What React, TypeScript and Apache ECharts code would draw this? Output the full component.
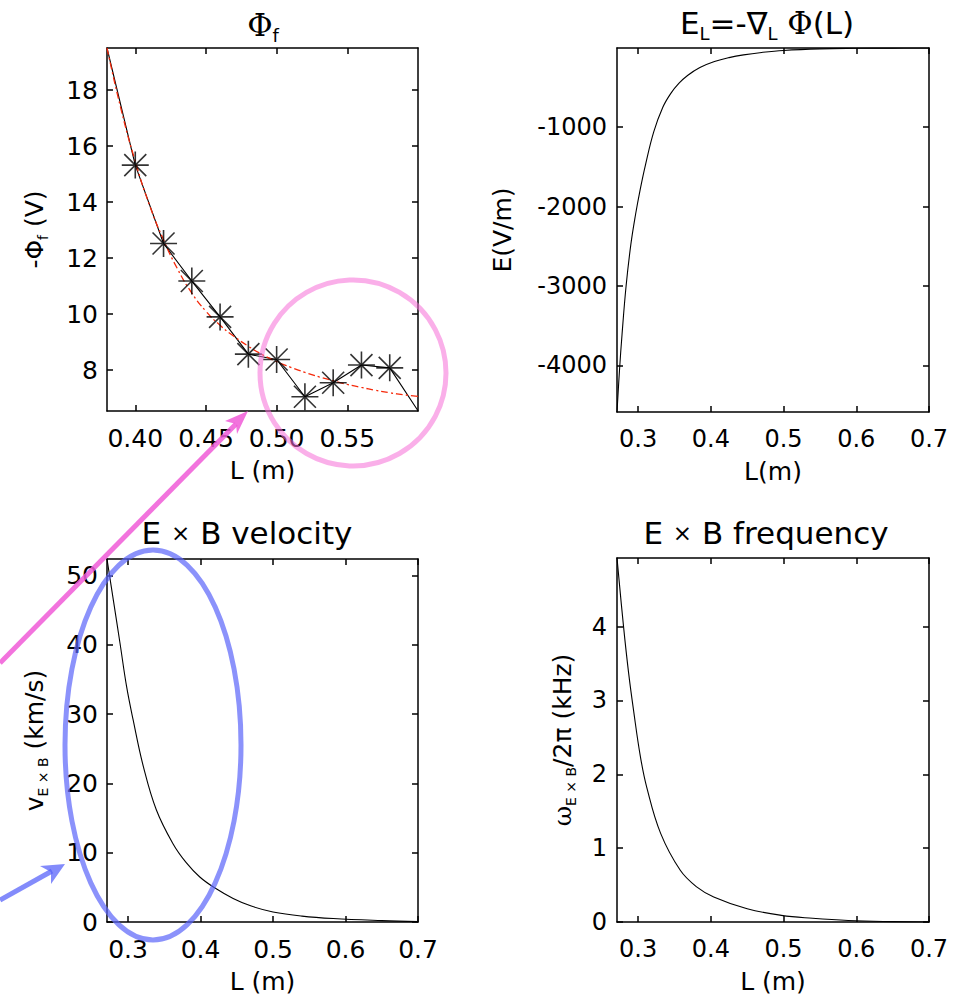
import React, { useEffect, useRef } from 'react';
import * as echarts from 'echarts';

const FONT = '"DejaVu Sans", sans-serif';
const SERIF = '"DejaVu Serif", serif';

// ---- Panel 1: floating potential -Phi_f vs L ----
const PHI_STAR_L = [0.40, 0.42, 0.44, 0.46, 0.48, 0.50, 0.52, 0.54, 0.56, 0.58];
const PHI_STAR_V = [15.32, 12.52, 11.18, 9.9, 8.57, 8.38, 7.05, 7.55, 8.18, 8.08];
const PHI_LINE_L = [0.38, 0.40, 0.42, 0.44, 0.46, 0.48, 0.50, 0.52, 0.54, 0.56, 0.58, 0.60];
const PHI_LINE_V = [19.5, 15.32, 12.52, 11.18, 9.9, 8.57, 8.38, 7.05, 7.55, 8.18, 8.08, 6.55];
const FIT_L = [0.38, 0.39, 0.40, 0.41, 0.42, 0.43, 0.44, 0.45, 0.46, 0.47, 0.48, 0.49, 0.50, 0.51, 0.52, 0.53, 0.54, 0.55, 0.56, 0.57, 0.58, 0.59, 0.60];
const FIT_V = [19.5, 17.3, 15.45, 13.9, 12.65, 11.6, 10.75, 10.1, 9.6, 9.2, 8.85, 8.55, 8.3, 8.1, 7.92, 7.76, 7.62, 7.49, 7.38, 7.28, 7.19, 7.12, 7.06];

// ---- Panel 2: electric field ----
const E_L = [0.271, 0.2745, 0.278, 0.2835, 0.290, 0.2965, 0.303, 0.310, 0.3215, 0.334, 0.345, 0.356, 0.368, 0.385, 0.405, 0.425, 0.445, 0.470, 0.500, 0.550, 0.600, 0.650, 0.700];
const E_V = [-4586, -4050, -3600, -3000, -2480, -2100, -1780, -1480, -1060, -750, -575, -450, -350, -250, -175, -125, -90, -60, -35, -15, -8, -5, -4];

// ---- Panel 3: ExB velocity ----
const V_L = [0.271, 0.2797, 0.289, 0.298, 0.307, 0.321, 0.339, 0.362, 0.380, 0.399, 0.420, 0.445, 0.470, 0.500, 0.540, 0.583, 0.650, 0.700];
const V_V = [52.4, 46.5, 40.2, 34.0, 29.2, 22.5, 16.2, 11.3, 8.6, 6.5, 4.9, 3.4, 2.3, 1.45, 0.85, 0.5, 0.2, 0.05];

// ---- Panel 4: ExB frequency ----
const F_L = [0.271, 0.280, 0.287, 0.294, 0.303, 0.312, 0.331, 0.358, 0.380, 0.404, 0.450, 0.497, 0.540, 0.589, 0.650, 0.700];
const F_V = [4.93, 4.0, 3.37, 2.85, 2.25, 1.82, 1.20, 0.70, 0.48, 0.34, 0.18, 0.09, 0.05, 0.02, 0.005, 0.0];

// ---- tick values ----
const TL_XTICKS = [0.40, 0.45, 0.50, 0.55];
const TL_YTICKS = [8, 10, 12, 14, 16, 18];
const R_XTICKS = [0.3, 0.4, 0.5, 0.6, 0.7];
const TR_YTICKS = [-4000, -3000, -2000, -1000];
const BL_YTICKS = [0, 10, 20, 30, 40, 50];
const BR_YTICKS = [0, 1, 2, 3, 4];

const pairs = (xs: number[], ys: number[]) => xs.map((x, i) => [x, ys[i]]);

const STAR = 'path://M0,13.5L27,13.5M13.5,0L13.5,27M2.5,2.5L24.5,24.5M24.5,2.5L2.5,24.5';

const line = { color: '#000', width: 1.5 };

function xAxes(grid: number, min: number, max: number, ticks: number[], fmt: (v: number) => string, fs: number, name: string, gap: number) {
  return [
    {
      type: 'value', gridIndex: grid, position: 'bottom', min, max,
      axisLine: { show: true, onZero: false, lineStyle: line },
      axisTick: { show: true, inside: true, length: 6, customValues: ticks, lineStyle: line },
      axisLabel: { show: true, customValues: ticks, formatter: fmt, color: '#000', fontFamily: FONT, fontSize: fs, margin: 15 },
      splitLine: { show: false },
      name, nameLocation: 'middle', nameGap: gap,
      nameTextStyle: { color: '#000', fontFamily: FONT, fontSize: 25 },
    },
    {
      type: 'value', gridIndex: grid, position: 'top', min, max,
      axisLine: { show: true, onZero: false, lineStyle: line },
      axisTick: { show: true, inside: true, length: 6, customValues: ticks, lineStyle: line },
      axisLabel: { show: false },
      splitLine: { show: false },
    },
  ];
}

function yAxes(grid: number, min: number, max: number, ticks: number[], fs: number, margin: number, name: string, gap: number, rich: any) {
  return [
    {
      type: 'value', gridIndex: grid, position: 'left', min, max,
      axisLine: { show: true, onZero: false, lineStyle: line },
      axisTick: { show: true, inside: true, length: 6, customValues: ticks, lineStyle: line },
      axisLabel: { show: true, customValues: ticks, formatter: (v: number) => String(Math.round(v)), color: '#000', fontFamily: FONT, fontSize: fs, margin },
      splitLine: { show: false },
      name, nameLocation: 'middle', nameGap: gap, nameRotate: 90,
      nameTextStyle: { color: '#000', fontFamily: FONT, fontSize: 25, rich },
    },
    {
      type: 'value', gridIndex: grid, position: 'right', min, max,
      axisLine: { show: true, onZero: false, lineStyle: line },
      axisTick: { show: true, inside: true, length: 6, customValues: ticks, lineStyle: line },
      axisLabel: { show: false },
      splitLine: { show: false },
    },
  ];
}

const richBase = {
  t: { fontFamily: FONT, fontSize: 25, color: '#000', verticalAlign: 'top' },
  g: { fontFamily: SERIF, fontSize: 25, color: '#000', verticalAlign: 'top' },
  s: { fontFamily: FONT, fontSize: 14, color: '#000', verticalAlign: 'top', padding: [14, 0, 0, 0] },
};

const titleRich = {
  t: { fontFamily: FONT, fontSize: 31, color: '#000', verticalAlign: 'top' },
  g: { fontFamily: SERIF, fontSize: 31, color: '#000', verticalAlign: 'top' },
  s: { fontFamily: FONT, fontSize: 18, color: '#000', verticalAlign: 'top', padding: [17, 0, 0, 0] },
};

const plainTitleRich = {
  t: { fontFamily: FONT, fontSize: 31, color: '#000' },
  x: { fontFamily: FONT, fontSize: 23, color: '#000' },
};

export default function App() {
  const ref = useRef<HTMLDivElement>(null);
  useEffect(() => {
    if (!ref.current) return;
    const chart = echarts.init(ref.current, undefined, { renderer: 'svg' });
    const f2 = (v: number) => v.toFixed(2);
    const f1 = (v: number) => v.toFixed(1);
    const smoothLine = (xi: number, xs: number[], ys: number[]) => ({
      type: 'line', xAxisIndex: xi, yAxisIndex: xi, data: pairs(xs, ys), smooth: 0.4,
      showSymbol: false, lineStyle: { color: '#000', width: 1.1 },
    });
    const option: any = {
      animation: false,
      backgroundColor: '#fff',
      grid: [
        { left: 107, top: 48, width: 311, height: 363 },
        { left: 617, top: 48, width: 312, height: 364 },
        { left: 107, top: 559, width: 311, height: 363 },
        { left: 617, top: 558, width: 312, height: 364 },
      ],
      xAxis: [
        ...xAxes(0, 0.38, 0.60, TL_XTICKS, f2, 25, 'L (m)', 47),
        ...xAxes(1, 0.271, 0.70, R_XTICKS, f1, 24, 'L(m)', 47),
        ...xAxes(2, 0.271, 0.70, R_XTICKS, f1, 25, 'L (m)', 47),
        ...xAxes(3, 0.271, 0.70, R_XTICKS, f1, 24, 'L (m)', 47),
      ],
      yAxis: [
        ...yAxes(0, 6.54, 19.5, TL_YTICKS, 25, 9, '{t|-Φ}{s|f}{t| (V)}', 57, richBase),
        ...yAxes(1, -4586, -4, TR_YTICKS, 24, 10, '{t|E(V/m)}', 102, richBase),
        ...yAxes(2, 0, 52.4, BL_YTICKS, 25, 9, '{t|v}{s|E × B}{t| (km/s)}', 57, richBase),
        ...yAxes(3, 0, 4.93, BR_YTICKS, 24, 10, '{g|ω}{s|E × B}{t|/2π (kHz)}', 39, richBase),
      ],
      series: [
        {
          type: 'line', xAxisIndex: 0, yAxisIndex: 0, data: pairs(PHI_LINE_L, PHI_LINE_V),
          showSymbol: false, lineStyle: { color: '#000', width: 1.1 }, z: 2,
        },
        {
          type: 'line', xAxisIndex: 0, yAxisIndex: 0, data: pairs(FIT_L, FIT_V), smooth: true,
          showSymbol: false, lineStyle: { color: '#f5290a', width: 1.3, type: [7, 3, 2, 3] }, z: 3,
        },
        {
          type: 'scatter', xAxisIndex: 0, yAxisIndex: 0, data: pairs(PHI_STAR_L, PHI_STAR_V),
          symbol: STAR, symbolSize: 27,
          itemStyle: { color: '#000', borderColor: '#000', borderWidth: 1.6 }, z: 4,
        },
        smoothLine(2, E_L, E_V),
        smoothLine(4, V_L, V_V),
        smoothLine(6, F_L, F_V),
      ],
      graphic: [
        { type: 'text', x: 263, y: 27, z: 50, style: { text: '{g|Φ}{s|f}', rich: titleRich, align: 'center', verticalAlign: 'middle' } },
        { type: 'text', x: 767, y: 25, z: 50, style: { text: '{t|E}{s|L}{t|=-∇}{s|L}{t| }{g|Φ}{t|(L)}', rich: titleRich, align: 'center', verticalAlign: 'middle' } },
        { type: 'text', x: 247, y: 533, z: 50, style: { text: '{t|E }{x|×}{t| B velocity}', rich: plainTitleRich, align: 'center', verticalAlign: 'middle' } },
        { type: 'text', x: 766, y: 533, z: 50, style: { text: '{t|E }{x|×}{t| B frequency}', rich: plainTitleRich, align: 'center', verticalAlign: 'middle' } },
        // pink annotation
        { type: 'circle', z: 100, shape: { cx: 353, cy: 373, r: 93 }, style: { fill: 'none', stroke: 'rgba(245,110,215,0.55)', lineWidth: 5 } },
        { type: 'polyline', z: 100, shape: { points: [[0, 663], [236, 424]] }, style: { stroke: 'rgba(240,90,215,0.85)', lineWidth: 5, fill: 'none' } },
        { type: 'polygon', z: 100, shape: { points: [[248, 411], [225, 421], [236, 424], [237, 434]] }, style: { fill: 'rgba(240,90,215,0.85)' } },
        // blue annotation
        { type: 'ellipse', z: 100, shape: { cx: 153, cy: 745, rx: 88, ry: 195 }, style: { fill: 'none', stroke: 'rgba(90,100,250,0.7)', lineWidth: 5 } },
        { type: 'polyline', z: 100, shape: { points: [[0, 900], [52, 871]] }, style: { stroke: 'rgba(90,100,250,0.75)', lineWidth: 5, fill: 'none' } },
        { type: 'polygon', z: 100, shape: { points: [[65, 864], [40, 866], [51, 872], [51, 884]] }, style: { fill: 'rgba(90,100,250,0.75)' } },
      ],
    };
    chart.setOption(option);
    return () => chart.dispose();
  }, []);
  return <div ref={ref} style={{ position: 'absolute', left: 0, top: 0, width: 964, height: 997 }} />;
}
